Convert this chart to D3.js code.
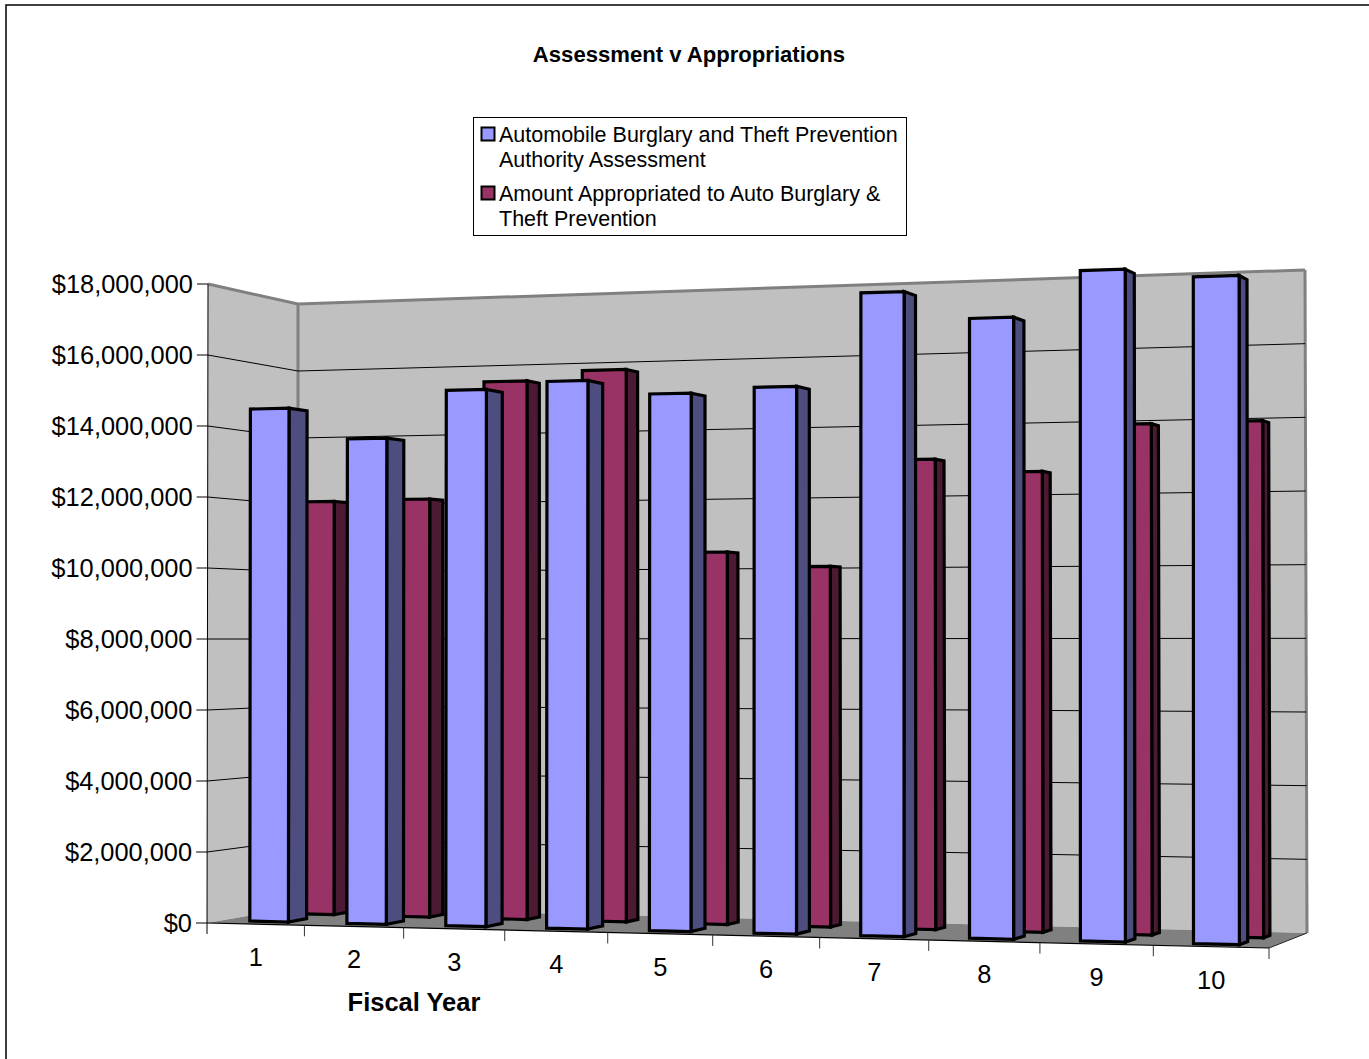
<!DOCTYPE html>
<html><head><meta charset="utf-8">
<script src="https://cdn.jsdelivr.net/npm/d3@7"></script>
<style>html,body{margin:0;padding:0;background:#fff;overflow:hidden}svg{display:block}text{font-family:"Liberation Sans",Arial,sans-serif;fill:#000}</style>
</head><body><svg id="c" width="1369" height="1059"></svg>
<script>
const chartTitle = "Assessment v Appropriations";
const xTitle = "Fiscal Year";
const categories = ["1","2","3","4","5","6","7","8","9","10"];
const assessment = [14520000,13620000,14920000,15100000,14690000,14810000,17280000,16510000,17690000,17430000];
const appropriated = [11990000,12020000,15350000,15600000,10420000,10000000,12920000,12540000,13780000,13800000];
const yTicks = [0,2000000,4000000,6000000,8000000,10000000,12000000,14000000,16000000,18000000];
const legendLabels = [["Automobile Burglary and Theft Prevention","Authority Assessment"],["Amount Appropriated to Auto Burglary &","Theft Prevention"]];
const seriesColors = [{front:"#9999ff",side:"#4d4d80"},{front:"#993366",side:"#4d1a33"}];

const svg = d3.select("#c");
const fmt = v => "$" + d3.format(",")(v);
// projected box corners of the 3D plot
const FBL=[207,923],FBR=[1269,948],FTL=[208,284],FTR=[1269,249];
const BBL=[298,907],BBR=[1307,933],BTL=[298,304],BTR=[1305,270];
const k=-0.091;
const cat = d3.scaleLinear().domain([0,categories.length]).range([0,1]);
const val = d3.scaleLinear().domain([0,18000000]).range([0,1]);
const persp = t => t*(1+k)/(1+k*t);
const mix = (a,b,u)=>[a[0]+(b[0]-a[0])*u,a[1]+(b[1]-a[1])*u];
function P(c,v,d){
  const s=persp(cat(c)), w=val(v);
  const f=mix(mix(FBL,FBR,s),mix(FTL,FTR,s),w);
  const b=mix(mix(BBL,BBR,s),mix(BTL,BTR,s),w);
  return mix(f,b,d);
}
const poly=(pts,fill,stroke,sw)=>svg.append("polygon").attr("points",pts.map(p=>p.map(n=>n.toFixed(1)).join(",")).join(" ")).attr("fill",fill).attr("stroke",stroke||"none").attr("stroke-width",sw||0).attr("stroke-linejoin","miter");
const seg=(a,b,col,sw)=>svg.append("line").attr("x1",a[0]).attr("y1",a[1]).attr("x2",b[0]).attr("y2",b[1]).attr("stroke",col).attr("stroke-width",sw);
const nCat=categories.length, maxVal=18000000;

// outer frame
svg.append("rect").attr("x",6).attr("y",5).attr("width",1400).attr("height",1100).attr("fill","#fff").attr("stroke","#000").attr("stroke-width",1.5);

// walls and floor
poly([P(0,0,0),P(0,maxVal,0),P(0,maxVal,1),P(0,0,1)],"#c0c0c0");
poly([P(0,0,1),P(0,maxVal,1),P(nCat,maxVal,1),P(nCat,0,1)],"#c0c0c0");
poly([P(0,0,0),P(0,0,1),P(nCat,0,1),P(nCat,0,0)],"#808080");
// wall edges
[[P(0,maxVal,0),P(0,maxVal,1)],[P(0,maxVal,1),P(nCat,maxVal,1)],[P(nCat,maxVal,1),P(nCat,0,1)],[P(0,maxVal,1),P(0,0,1)]].forEach(e=>seg(e[0],e[1],"#808080",3));
// gridlines
yTicks.forEach(v=>{
  if(v>0&&v<maxVal){seg(P(0,v,0),P(0,v,1),"#000",1);seg(P(0,v,1),P(nCat,v,1),"#000",1);}
});
// axes
seg(P(0,maxVal,0),[P(0,0,0)[0],P(0,0,0)[1]+11],"#000",1);
seg(P(0,0,0),P(nCat,0,0),"#000",1.2);
seg(P(nCat,0,0),P(nCat,0,1),"#222",1);
yTicks.forEach(v=>{const p=P(0,v,0);seg([p[0]-11,p[1]],p,"#000",1);
  svg.append("text").attr("x",p[0]-15).attr("y",p[1]+8.5).attr("text-anchor","end").attr("font-size",25.4).text(fmt(v));});
d3.range(1,nCat+1).forEach(i=>{const p=P(i,0,0);seg(p,[p[0],p[1]+11],"#333",1);});
categories.forEach((c,i)=>{const a=P(i,0,0),b=P(i+1,0,0);
  svg.append("text").attr("x",(a[0]+b[0])/2).attr("y",(a[1]+b[1])/2+42).attr("text-anchor","middle").attr("font-size",25.4).text(c);});

// bars: back row first, then front row
function bar(i,value,a,b,d0,d1,col){
  poly([P(i+b,0,d0),P(i+b,value,d0),P(i+b,value,d1),P(i+b,0,d1)],col.side,"#000",3.2);
  poly([P(i+a,0,d0),P(i+a,value,d0),P(i+b,value,d0),P(i+b,0,d0)],col.front,"#000",3.2);
}
appropriated.forEach((v,i)=>bar(i,v,0.30,0.74,0.63,0.79,seriesColors[1]));
assessment.forEach((v,i)=>bar(i,v,0.29,0.69,0.164,0.372,seriesColors[0]));

// title
svg.append("text").attr("x",689).attr("y",62).attr("text-anchor","middle").attr("font-size",22.1).attr("font-weight","bold").text(chartTitle);
svg.append("text").attr("x",414).attr("y",1011).attr("text-anchor","middle").attr("font-size",25.5).attr("font-weight","bold").text(xTitle);

// legend
svg.append("rect").attr("x",473.5).attr("y",117.5).attr("width",433).attr("height",118).attr("fill","#fff").attr("stroke","#000").attr("stroke-width",1);
const rowY=[[142,167],[201,226]], swY=[127,186];
legendLabels.forEach((ls,j)=>{
  svg.append("rect").attr("x",481.5).attr("y",swY[j]+.5).attr("width",13).attr("height",13).attr("fill",seriesColors[j].front).attr("stroke","#000").attr("stroke-width",2);
  ls.forEach((t,m)=>svg.append("text").attr("x",499).attr("y",rowY[j][m]).attr("font-size",21.5).text(t));
});
</script></body></html>
